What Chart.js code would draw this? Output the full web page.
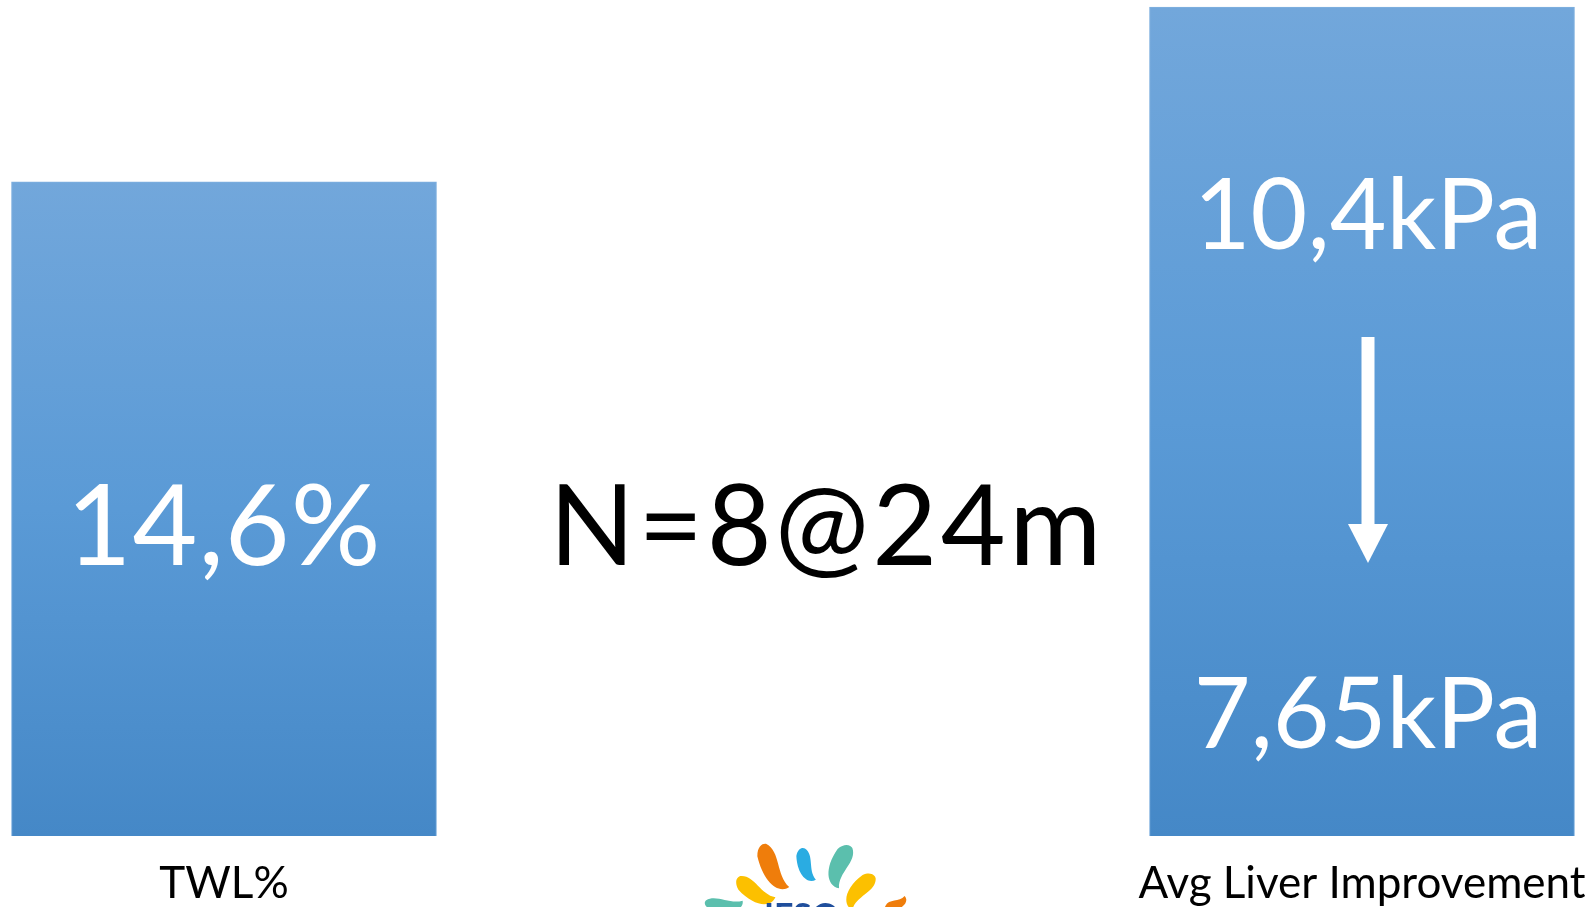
<!DOCTYPE html>
<html>
<head>
<meta charset="utf-8">
<title>TWL% / Avg Liver Improvement</title>
<script src="https://cdn.jsdelivr.net/npm/chart.js@4.4.1/dist/chart.umd.min.js"></script>
<style>
  html, body { margin: 0; padding: 0; background: #fff; }
  #wrap { position: relative; width: 1591px; height: 907px; }
</style>
</head>
<body>
<div id="wrap"><canvas id="resultsChart"></canvas></div>
<script>
// bar categories and heights
const categories = ['TWL%', 'Avg Liver Improvement'];
const barValues = [14.6, 18.5];

// texts written on and between the bars
const twlText = '14,6%';
const liverBefore = '10,4kPa';
const liverAfter = '7,65kPa';
const cohortText = 'N=8@24m';

const FONT = 'Lato, "Open Sans", sans-serif';

function barGradient(context) {
    const chart = context.chart;
    if (!chart.chartArea || context.type !== 'data') return '#5b9bd5';
    const yScale = chart.scales.y;
    const top = yScale.getPixelForValue(context.parsed.y);
    const bottom = yScale.getPixelForValue(0);
    const g = chart.ctx.createLinearGradient(0, top, 0, bottom);
    g.addColorStop(0, '#72a7db');
    g.addColorStop(0.5, '#5a9ad6');
    g.addColorStop(1, '#4588c7');
    return g;
}

// petal shaped blob from (x1,y1) to (x2,y2)
function petal(ctx, x1, y1, x2, y2, w, color) {
    const cx = (x1 + x2) / 2, cy = (y1 + y2) / 2;
    const len = Math.hypot(x2 - x1, y2 - y1);
    ctx.save();
    ctx.translate(cx, cy);
    ctx.rotate(Math.atan2(y2 - y1, x2 - x1));
    ctx.beginPath();
    ctx.moveTo(-len / 2, -w * 0.2);
    ctx.bezierCurveTo(-len / 4, -w, len / 6, 0, len / 2, -w * 0.6);
    ctx.bezierCurveTo(len / 2 + 3, w * 0.4, len / 5, w * 1.1, -len / 3, w * 0.8);
    ctx.bezierCurveTo(-len / 2 - 2, w * 0.5, -len / 2 - 2, 0, -len / 2, -w * 0.2);
    ctx.closePath();
    ctx.fillStyle = color;
    ctx.fill();
    ctx.restore();
}

const overlayPlugin = {
    id: 'overlay',
    afterDatasetsDraw(chart) {
        const ctx = chart.ctx;
        const bars = chart.getDatasetMeta(0).data;
        const left = bars[0], right = bars[1];
        ctx.save();
        ctx.textAlign = 'center';
        ctx.textBaseline = 'alphabetic';

        ctx.fillStyle = '#fff';
        ctx.font = '112px ' + FONT;
        ctx.letterSpacing = '1px';
        ctx.fillText(twlText, left.x, 565);

        ctx.font = '98px ' + FONT;
        ctx.letterSpacing = '0px';
        const rx = right.x + 6;
        ctx.fillText(liverBefore, rx, 249);
        ctx.fillText(liverAfter, rx, 748);

        // down arrow between the two readings
        ctx.fillRect(rx - 6.5, 337, 13, 188);
        ctx.beginPath();
        ctx.moveTo(rx - 20, 524);
        ctx.lineTo(rx + 20, 524);
        ctx.lineTo(rx, 563);
        ctx.closePath();
        ctx.fill();

        ctx.fillStyle = '#000';
        ctx.font = '112px ' + FONT;
        ctx.letterSpacing = '3.5px';
        ctx.fillText(cohortText, (left.x + right.x) / 2 + 34, 565);
        ctx.letterSpacing = '0px';

        // society logo, bottom centre
        petal(ctx, 706, 902, 742, 906, 9, '#5bbfad');
        petal(ctx, 739, 878, 771, 903, 12, '#fcc000');
        petal(ctx, 764, 845, 782, 890, 13, '#ef7d0b');
        petal(ctx, 803, 849, 810, 881, 10, '#2aace2');
        petal(ctx, 850, 847, 832, 885, 13, '#5bbfad');
        petal(ctx, 874, 877, 847, 905, 12, '#fcc000');
        petal(ctx, 886, 907, 906, 900, 7, '#ef7d0b');
        ctx.fillStyle = '#1f4e9c';
        ctx.font = 'bold 34px ' + FONT;
        ctx.textAlign = 'left';
        ctx.textBaseline = 'top';
        ctx.fillText('IFSO', 764, 900);
        ctx.restore();
    }
};

new Chart(document.getElementById('resultsChart'), {
    type: 'bar',
    data: {
        labels: categories,
        datasets: [{
            data: barValues,
            backgroundColor: barGradient,
            borderColor: '#7fb0df',
            borderWidth: 1,
            barThickness: 425,
            clip: false
        }]
    },
    options: {
        responsive: true,
        maintainAspectRatio: false,
        animation: false,
        layout: { padding: { left: 224, right: 229, top: 7, bottom: 0 } },
        plugins: {
            legend: { display: false },
            tooltip: { enabled: false }
        },
        scales: {
            x: {
                offset: false,
                grid: { display: false, drawTicks: false },
                border: { display: false },
                ticks: {
                    color: '#000',
                    font: { family: FONT, size: 44 },
                    padding: 21,
                    maxRotation: 0,
                    autoSkip: false
                },
                afterFit(scale) {
                    scale.height = 71;
                    // labels may overhang the plot area, the layout padding covers them
                    scale.paddingLeft = 0;
                    scale.paddingRight = 0;
                }
            },
            y: {
                display: false,
                min: 0,
                max: 18.5
            }
        }
    },
    plugins: [overlayPlugin]
});
</script>
</body>
</html>
